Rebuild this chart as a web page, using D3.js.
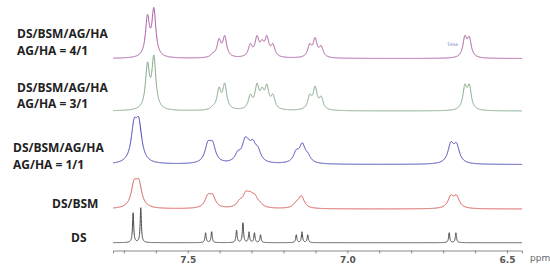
<!DOCTYPE html>
<html>
<head>
<meta charset="utf-8">
<script src="https://cdn.jsdelivr.net/npm/d3@7"></script>
<style>
  body { margin: 0; background: #fff; }
  svg { display: block; }
</style>
</head>
<body>
<script>
// ppm range shown on the x axis (reversed, NMR style)
var ppmRange = [7.734, 6.453];
var tickMinor = [7.7, 7.6, 7.5, 7.4, 7.3, 7.2, 7.1, 7.0, 6.9, 6.8, 6.7, 6.6, 6.5];
var tickLabels = [7.5, 7.0, 6.5];

// sample names, top to bottom
var labels = [
  ["DS/BSM/AG/HA", "AG/HA = 4/1"],
  ["DS/BSM/AG/HA", "AG/HA = 3/1"],
  ["DS/BSM/AG/HA", "AG/HA = 1/1"],
  ["DS/BSM"],
  ["DS"]
];

// peak apex [ppm, height]
var peaks41 = [[7.626, 44], [7.606, 51], [7.421, 6], [7.402, 20], [7.384, 23],
  [7.304, 15], [7.283, 23], [7.267, 19], [7.252, 23], [7.233, 15],
  [7.118, 15], [7.101, 21], [7.082, 13], [6.632, 23], [6.618, 22]];
var peaks31 = [[7.626, 49], [7.606, 56], [7.421, 6], [7.402, 24], [7.384, 28],
  [7.304, 17], [7.283, 28], [7.267, 24], [7.252, 27], [7.233, 17],
  [7.118, 17], [7.101, 25], [7.082, 15], [6.632, 27], [6.618, 27]];
var peaks11 = [[7.668, 46], [7.653, 47], [7.437, 23.5], [7.422, 23.5],
  [7.343, 14], [7.321, 27], [7.311, 26], [7.296, 25], [7.280, 18],
  [7.160, 15], [7.141, 21.7], [7.124, 12], [6.676, 22.7], [6.658, 21.7]];
var peaksBSM = [[7.668, 29.5], [7.653, 30], [7.437, 15], [7.422, 15],
  [7.337, 10], [7.318, 18], [7.304, 17.6], [7.290, 15], [7.275, 8],
  [7.160, 8], [7.144, 13.3], [6.676, 14], [6.658, 14]];
var peaksDS = [[7.671, 30], [7.647, 35], [7.444, 10], [7.425, 11],
  [7.347, 12.7], [7.327, 20], [7.308, 11], [7.291, 10], [7.272, 8],
  [7.160, 8], [7.142, 11], [7.124, 8], [6.681, 10], [6.660, 10]];

var allPeaks = [peaks41, peaks31, peaks11, peaksBSM, peaksDS];
var halfWidths = [0.0075, 0.0075, 0.011, 0.011, 0.0022];   // ppm
var baselines = [191.5, 139, 85.5, 41, 7.3];                 // stack offsets
var colors = ["#a9559f", "#7fa683", "#3d3db5", "#d4504d", "#4a4a4a"];

var width = 550, height = 272;

var x = d3.scaleLinear().domain(ppmRange).range([113, 522]);
var y = d3.scaleLinear().domain([0, 250]).range([250, 0]);

var svg = d3.select("body").append("svg")
  .attr("width", width)
  .attr("height", height);

var lor = function(d, w) { return 1 / (1 + (d / w) * (d / w)); };

// turn apex heights into lorentzian amplitudes (overlapping peaks add up)
var amplitudes = function(pk, w) {
  var a = pk.map(function(p) { return p[1]; });
  for (var it = 0; it < 400; it++) {
    for (var i = 0; i < pk.length; i++) {
      var s = 0;
      for (var j = 0; j < pk.length; j++) s += a[j] * lor(pk[i][0] - pk[j][0], w);
      a[i] = Math.max(0, a[i] + 0.3 * (pk[i][1] - s));
    }
  }
  return a;
};

var xs = d3.range(ppmRange[1], ppmRange[0], 0.0004).concat([ppmRange[0]]);

allPeaks.forEach(function(pk, k) {
  var w = halfWidths[k];
  var amp = amplitudes(pk, w);
  var pts = xs.map(function(p) {
    var v = 0;
    pk.forEach(function(q, i) { v += amp[i] * lor(p - q[0], w); });
    return [p, baselines[k] + v];
  });
  var line = d3.line()
    .x(function(d) { return x(d[0]); })
    .y(function(d) { return y(d[1]); });
  svg.append("path")
    .datum(pts)
    .attr("fill", "none")
    .attr("stroke", colors[k])
    .attr("stroke-width", 1)
    .attr("d", line);
});

// axis
var axis = svg.append("g")
  .attr("transform", "translate(0,250.5)")
  .call(d3.axisBottom(x).tickValues(tickMinor).tickSize(3).tickFormat(function(d) {
    return tickLabels.indexOf(d) >= 0 ? d3.format(".1f")(d) : "";
  }));
axis.select(".domain").attr("stroke", "#888");
axis.selectAll(".tick line").attr("stroke", "#888");
axis.selectAll(".tick text")
  .attr("fill", "#555")
  .style("font", "bold 9px 'DejaVu Sans', sans-serif");

svg.append("text")
  .attr("x", 530).attr("y", 261)
  .attr("fill", "#666")
  .style("font", "9px 'DejaVu Sans', sans-serif")
  .text("ppm");

// stray annotation from the spectrometer printout
svg.append("text")
  .attr("x", 447).attr("y", 45.5)
  .attr("fill", "#6070c0")
  .style("font", "4.5px 'DejaVu Sans', sans-serif")
  .text("Time");

// sample labels
var labelPos = [[17, 38, 55], [17, 91.5, 108], [13, 152, 168.5], [52, 207.5], [71, 241.5]];
labels.forEach(function(lines, k) {
  lines.forEach(function(t, i) {
    svg.append("text")
      .attr("x", labelPos[k][0])
      .attr("y", labelPos[k][i + 1])
      .attr("fill", "#222")
      .style("font", "bold 12px 'Open Sans', sans-serif")
      .text(t);
  });
});
</script>
</body>
</html>
